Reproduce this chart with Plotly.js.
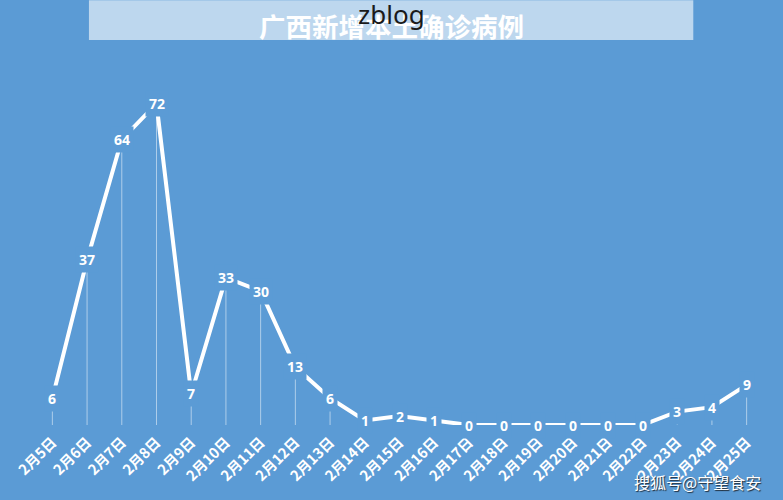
<!DOCTYPE html>
<html>
<head>
<meta charset="utf-8">
<script src="https://cdn.plot.ly/plotly-3.0.1.min.js"></script>
<style>
  html, body { margin: 0; padding: 0; background: #5b9bd5; }
  #chart { width: 783px; height: 500px; }
</style>
</head>
<body>
<div id="chart"></div>
<script>
// 每日新增本土确诊
var days = ['2月5日', '2月6日', '2月7日', '2月8日', '2月9日', '2月10日', '2月11日',
            '2月12日', '2月13日', '2月14日', '2月15日', '2月16日', '2月17日', '2月18日',
            '2月19日', '2月20日', '2月21日', '2月22日', '2月23日', '2月24日', '2月25日'];
var cases = [6, 37, 64, 72, 7, 33, 30, 13, 6, 1, 2, 1, 0, 0, 0, 0, 0, 0, 3, 4, 9];

var bg = '#5b9bd5';

var trace = {
  x: days,
  y: cases,
  type: 'scatter',
  mode: 'lines',
  line: { color: '#ffffff', width: 4 },
  cliponaxis: false,
  hoverinfo: 'x+y',
  // drop lines down to the axis
  error_y: {
    type: 'data',
    symmetric: false,
    array: cases.map(function () { return 0; }),
    arrayminus: cases,
    color: 'rgba(255,255,255,0.5)',
    thickness: 1,
    width: 0
  }
};

// data labels sit on the points and hide the line behind them
var labels = days.map(function (d, i) {
  return {
    x: d, y: cases[i], text: String(cases[i]),
    showarrow: false, bgcolor: bg, borderpad: 3,
    xanchor: 'center', yanchor: 'middle',
    font: { family: 'Noto Sans, sans-serif', size: 14, color: '#ffffff', weight: 'bold' }
  };
});

labels.push({
  xref: 'paper', yref: 'paper', x: 0.489, y: 1.126,
  xanchor: 'center', yanchor: 'middle',
  text: 'zblog', showarrow: false,
  font: { family: 'Noto Sans, sans-serif', size: 26, color: '#1a1a1a' }
});
labels.push({
  xref: 'paper', yref: 'paper', x: 0.909, y: -0.156,
  xanchor: 'center', yanchor: 'middle',
  text: '搜狐号@守望食安', showarrow: false,
  font: { family: 'Noto Sans CJK SC', size: 16, color: '#ffffff',
          shadow: '1px 1px 1px #1e2b38' }
});

var layout = {
  width: 783,
  height: 500,
  paper_bgcolor: bg,
  plot_bgcolor: bg,
  margin: { l: 35, r: 19, t: 60, b: 75 },
  showlegend: false,
  title: {
    text: '广西新增本土确诊病例',
    x: 0.5, xref: 'container', xanchor: 'center',
    y: 0.944, yref: 'container', yanchor: 'middle',
    font: { family: 'Noto Sans CJK SC', size: 26.5, color: '#ffffff', weight: 'bold' }
  },
  xaxis: {
    type: 'category',
    range: [-0.5, 20.5],
    showgrid: false, zeroline: false, showline: false, ticks: '',
    tickangle: -45,
    ticklabelstandoff: 5,
    tickfont: { family: 'Noto Sans CJK SC', size: 14.5, color: '#ffffff', weight: 'bold' },
    fixedrange: true
  },
  yaxis: {
    range: [0, 81.8],
    visible: false,
    fixedrange: true
  },
  shapes: [{
    type: 'rect', xref: 'paper', yref: 'paper',
    x0: 0.074, x1: 0.903, y0: 1.055, y1: 1.164,
    fillcolor: '#bdd7ee', line: { width: 0 }, layer: 'below'
  }],
  annotations: labels
};

Plotly.newPlot('chart', [trace], layout, { displayModeBar: false });
</script>
</body>
</html>
